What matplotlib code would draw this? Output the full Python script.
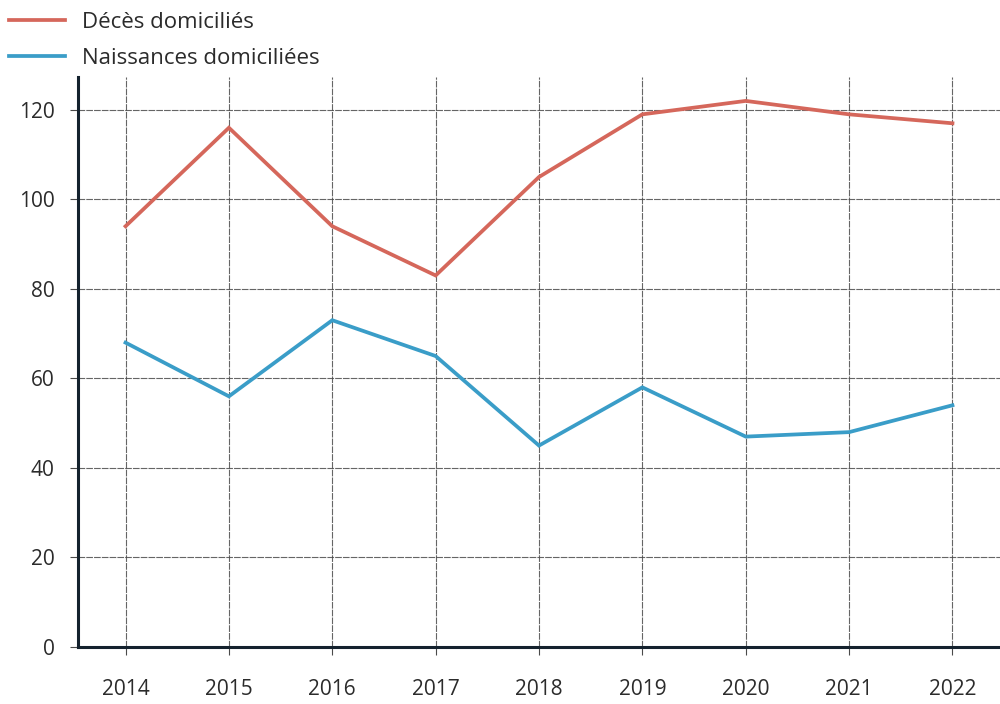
import matplotlib
matplotlib.use("Agg")
import matplotlib.pyplot as plt

plt.rcParams['font.family'] = ['Open Sans', 'DejaVu Sans']

years = [2014, 2015, 2016, 2017, 2018, 2019, 2020, 2021, 2022]
deces = [94, 116, 94, 83, 105, 119, 122, 119, 117]
naissances = [68, 56, 73, 65, 45, 58, 47, 48, 54]
y_ticks = [0, 20, 40, 60, 80, 100, 120]

label_deces = "Décès domiciliés"
label_naiss = "Naissances domiciliées"

fig = plt.figure(figsize=(10, 7.04), dpi=100)
ax = fig.add_axes([0.078, 0.081, 0.922, 0.81])

ax.plot(years, deces, color='#d5675b', lw=2.7, label=label_deces,
        solid_joinstyle='miter', zorder=3)
ax.plot(years, naissances, color='#3a9dc8', lw=2.7, label=label_naiss,
        solid_joinstyle='miter', zorder=3)

ax.set_xlim(2013.54, 2022.46)
ax.set_ylim(0, 127.4)
ax.set_xticks(years)
ax.set_xticklabels([str(y) for y in years])
ax.set_yticks(y_ticks)

ax.grid(True, color='#4a4a4a', lw=0.8, ls=(0, (6, 1)), alpha=0.85, zorder=1)
for s in ['top', 'right']:
    ax.spines[s].set_visible(False)
for s in ['left', 'bottom']:
    ax.spines[s].set_color('#14222e')
    ax.spines[s].set_linewidth(2.2)
    ax.spines[s].set_zorder(4)

ax.tick_params(axis='both', length=6, width=0.8, color='#4a4a4a',
               labelsize=15, labelcolor='#2b2b2b')
ax.tick_params(axis='x', pad=17)
ax.tick_params(axis='y', pad=11)

fig.legend(loc='upper left', bbox_to_anchor=(0.006, 0.988), frameon=False,
           fontsize=16, handlelength=2.5, handletextpad=0.75,
           labelspacing=0.67, borderaxespad=0.0, borderpad=0.15,
           labelcolor='#2b2b2b')

fig.savefig('out.png', dpi=100, facecolor='white')
